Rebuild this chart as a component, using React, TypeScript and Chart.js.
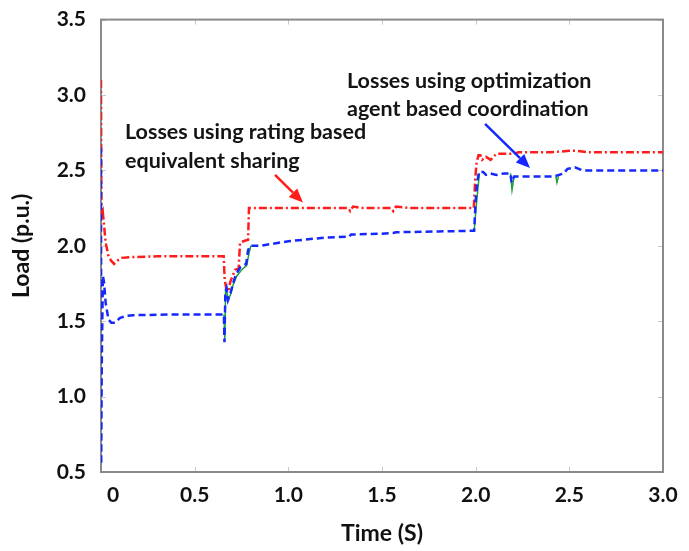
import React, { useEffect, useRef } from 'react';
import { Chart, registerables } from 'chart.js';

Chart.register(...registerables);

// ---- data (time in s, load in p.u.) ----
const redTime = [0.000, 0.002, 0.010, 0.016, 0.025, 0.040, 0.055, 0.070, 0.085, 0.110, 0.160, 0.300, 0.500, 0.655, 0.660, 0.668, 0.680, 0.690, 0.715, 0.735, 0.742, 0.760, 0.785, 0.790, 1.000, 1.320, 1.330, 1.345, 1.400, 1.550, 1.560, 1.575, 1.650, 1.990, 1.998, 2.005, 2.015, 2.025, 2.035, 2.055, 2.080, 2.110, 2.200, 2.230, 2.400, 2.500, 2.540, 2.600, 3.000];
const redLoad = [3.10, 2.18, 2.22, 2.14, 2.02, 1.93, 1.90, 1.88, 1.90, 1.92, 1.925, 1.93, 1.93, 1.93, 1.78, 1.72, 1.70, 1.76, 1.84, 1.85, 2.02, 2.03, 2.04, 2.25, 2.25, 2.25, 2.23, 2.26, 2.25, 2.25, 2.23, 2.26, 2.25, 2.25, 2.45, 2.55, 2.60, 2.60, 2.57, 2.59, 2.57, 2.61, 2.61, 2.62, 2.62, 2.63, 2.63, 2.62, 2.62];

const blueTime = [0.000, 0.001, 0.004, 0.010, 0.016, 0.025, 0.040, 0.055, 0.075, 0.100, 0.130, 0.170, 0.400, 0.656, 0.659, 0.664, 0.670, 0.678, 0.690, 0.705, 0.720, 0.745, 0.775, 0.785, 0.795, 0.850, 1.000, 1.200, 1.325, 1.335, 1.500, 1.560, 1.575, 1.800, 1.992, 2.000, 2.008, 2.018, 2.040, 2.055, 2.080, 2.110, 2.150, 2.185, 2.192, 2.205, 2.420, 2.470, 2.490, 2.530, 2.570, 3.000];
const blueLoad = [2.65, 0.55, 1.20, 1.80, 1.76, 1.62, 1.51, 1.49, 1.49, 1.52, 1.535, 1.54, 1.545, 1.545, 1.36, 1.70, 1.72, 1.64, 1.68, 1.75, 1.81, 1.86, 1.88, 1.97, 2.00, 2.00, 2.03, 2.055, 2.06, 2.075, 2.08, 2.085, 2.09, 2.095, 2.10, 2.30, 2.42, 2.49, 2.49, 2.47, 2.48, 2.47, 2.48, 2.48, 2.42, 2.46, 2.46, 2.48, 2.51, 2.52, 2.50, 2.50];

// third (green) trace, only visible where it departs from the blue one; null = hidden gap
const greenTime = [0.656, 0.661, 0.665, 0.670, 0.678, 0.690, 0.705, 0.725, 0.750, 0.778, 0.790, 0.800, 0.900, 1.992, 2.003, 2.012, 2.020, 2.100, 2.186, 2.194, 2.205, 2.300, 2.428, 2.434, 2.442, 2.600];
const greenLoad = [1.545, 1.38, 1.70, 1.71, 1.65, 1.67, 1.74, 1.80, 1.84, 1.87, 1.95, 2.00, null, 2.10, 2.26, 2.38, 2.48, null, 2.48, 2.37, 2.46, null, 2.46, 2.42, 2.46, null];

const xTickValues = [0, 0.5, 1.0, 1.5, 2.0, 2.5, 3.0];
const yTickValues = [0.5, 1.0, 1.5, 2.0, 2.5, 3.0, 3.5];

const noteRating = ['Losses using rating based', 'equivalent sharing'];
const noteOptim = ['Losses using optimization', 'agent based coordination'];

// annotation anchors in data units
const noteRatingAt = { x: 0.128, y: 2.71 };
const noteOptimAt = { x: 1.313, y: 3.044 };
const redArrow = { x1: 0.929, y1: 2.47, x2: 1.078, y2: 2.287 };
const blueArrow = { x1: 2.05, y1: 2.809, x2: 2.29, y2: 2.516 };

const FONT = 'Lato, "Open Sans", "DejaVu Sans", sans-serif';
const RED = 'rgb(255,28,28)';
const BLUE = 'rgb(22,40,255)';
const GREEN = 'rgb(30,160,60)';

const toPts = (t: number[], v: (number | null)[]) => t.map((x, i) => ({ x, y: v[i] }));

const framePlugin = {
  id: 'frame',
  beforeDatasetsDraw(chart: any) {
    const { ctx, chartArea: a, scales } = chart;
    ctx.save();
    ctx.strokeStyle = '#c8c8c8';
    ctx.lineWidth = 1;
    const tl = 5;
    xTickValues.forEach((v) => {
      const px = Math.round(scales.x.getPixelForValue(v)) + 0.5;
      ctx.beginPath();
      ctx.moveTo(px, a.bottom);
      ctx.lineTo(px, a.bottom - tl);
      ctx.moveTo(px, a.top);
      ctx.lineTo(px, a.top + tl);
      ctx.stroke();
    });
    yTickValues.forEach((v) => {
      const py = Math.round(scales.y.getPixelForValue(v)) + 0.5;
      ctx.beginPath();
      ctx.moveTo(a.left, py);
      ctx.lineTo(a.left + tl, py);
      ctx.moveTo(a.right, py);
      ctx.lineTo(a.right - tl, py);
      ctx.stroke();
    });
    ctx.strokeStyle = '#8a8a8a';
    ctx.lineWidth = 2;
    ctx.strokeRect(a.left, a.top, a.right - a.left, a.bottom - a.top);
    ctx.restore();
  },
};

function drawArrow(ctx: any, x1: number, y1: number, x2: number, y2: number, color: string) {
  const ang = Math.atan2(y2 - y1, x2 - x1);
  const head = 14;
  const hw = 6;
  const bx = x2 - head * Math.cos(ang);
  const by = y2 - head * Math.sin(ang);
  ctx.strokeStyle = color;
  ctx.fillStyle = color;
  ctx.lineWidth = 2.5;
  ctx.beginPath();
  ctx.moveTo(x1, y1);
  ctx.lineTo(bx, by);
  ctx.stroke();
  ctx.beginPath();
  ctx.moveTo(x2, y2);
  ctx.lineTo(bx + hw * Math.sin(ang), by - hw * Math.cos(ang));
  ctx.lineTo(bx - hw * Math.sin(ang), by + hw * Math.cos(ang));
  ctx.closePath();
  ctx.fill();
}

const notesPlugin = {
  id: 'notes',
  afterDatasetsDraw(chart: any) {
    const { ctx, scales } = chart;
    const X = (v: number) => scales.x.getPixelForValue(v);
    const Y = (v: number) => scales.y.getPixelForValue(v);
    ctx.save();
    ctx.font = `bold 21.5px ${FONT}`;
    ctx.fillStyle = '#141414';
    ctx.textAlign = 'left';
    ctx.textBaseline = 'alphabetic';
    noteRating.forEach((s, i) => ctx.fillText(s, X(noteRatingAt.x), Y(noteRatingAt.y) + i * 29));
    noteOptim.forEach((s, i) => ctx.fillText(s, X(noteOptimAt.x), Y(noteOptimAt.y) + i * 28));
    drawArrow(ctx, X(redArrow.x1), Y(redArrow.y1), X(redArrow.x2), Y(redArrow.y2), RED);
    drawArrow(ctx, X(blueArrow.x1), Y(blueArrow.y1), X(blueArrow.x2), Y(blueArrow.y2), BLUE);
    ctx.restore();
  },
};

export default function App() {
  const ref = useRef<HTMLCanvasElement>(null);
  useEffect(() => {
    const chart = new Chart(ref.current as HTMLCanvasElement, {
      type: 'line',
      data: {
        datasets: [
          {
            label: 'Losses using optimization agent based coordination',
            data: toPts(blueTime, blueLoad),
            borderColor: BLUE,
            borderWidth: 2.5,
            borderDash: [7, 4],
            pointRadius: 0,
            tension: 0,
            order: 0,
          },
          {
            label: 'Losses using rating based equivalent sharing',
            data: toPts(redTime, redLoad),
            borderColor: RED,
            borderWidth: 2.5,
            borderDash: [8, 3, 2, 3],
            pointRadius: 0,
            tension: 0,
            order: 1,
          },
          {
            label: 'reference',
            data: toPts(greenTime, greenLoad),
            borderColor: GREEN,
            borderWidth: 1.5,
            pointRadius: 0,
            tension: 0,
            spanGaps: false,
            order: 2,
          },
        ],
      },
      options: {
        responsive: false,
        animation: false,
        events: [],
        layout: { padding: { top: 12, right: 26, left: 0, bottom: 0 } },
        plugins: { legend: { display: false }, tooltip: { enabled: false } },
        scales: {
          x: {
            type: 'linear',
            min: 0,
            max: 3,
            afterFit: (s: any) => { s.height = 79; },
            afterBuildTicks: (s: any) => { s.ticks = xTickValues.map((v) => ({ value: v })); },
            grid: { display: false },
            border: { display: false },
            ticks: {
              padding: 3,
              color: '#111',
              font: { family: FONT, size: 21, weight: 'bold' },
              callback: (v: any) => (Number(v) === 0 ? '\u2007\u20070' : Number(v).toFixed(1)),
            },
            title: {
              display: true,
              text: 'Time (S)',
              color: '#111',
              font: { family: FONT, size: 23, weight: 'bold' },
              padding: { top: 0, bottom: 4 },
            },
          },
          y: {
            type: 'linear',
            min: 0.5,
            max: 3.5,
            afterFit: (s: any) => { s.width = 101; },
            afterBuildTicks: (s: any) => { s.ticks = yTickValues.map((v) => ({ value: v })); },
            grid: { display: false },
            border: { display: false },
            ticks: {
              padding: 7,
              color: '#111',
              font: { family: FONT, size: 21, weight: 'bold' },
              callback: (v: any) => Number(v).toFixed(1),
            },
            title: {
              display: true,
              text: 'Load (p.u.)',
              color: '#111',
              font: { family: FONT, size: 23, weight: 'bold' },
              padding: { top: 8, bottom: 0 },
            },
          },
        },
      },
      plugins: [framePlugin, notesPlugin],
    } as any);
    return () => chart.destroy();
  }, []);
  return (
    <div style={{ position: 'fixed', left: 0, top: 0, width: 689, height: 551, background: '#fff' }}>
      <canvas ref={ref} width={689} height={551} style={{ display: 'block' }} />
    </div>
  );
}
